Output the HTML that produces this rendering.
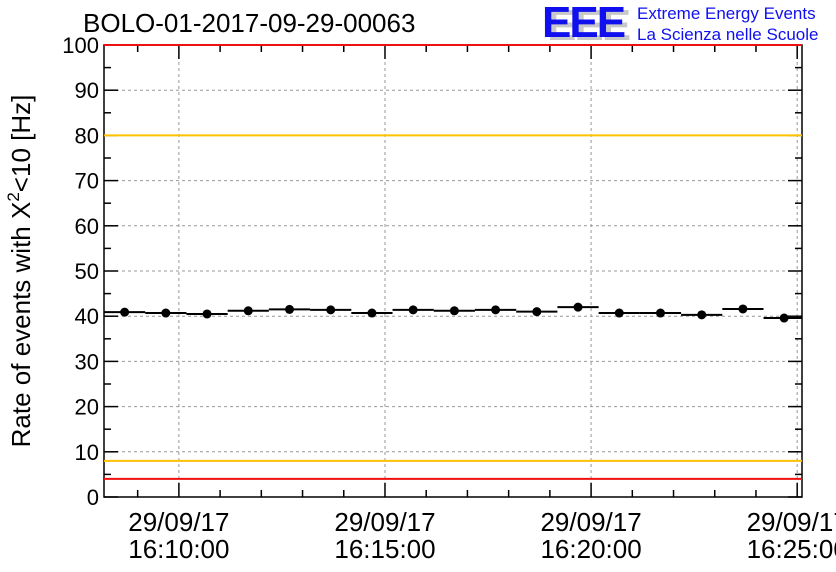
<!DOCTYPE html>
<html><head><meta charset="utf-8"><style>
body{margin:0;background:#fff}
svg{display:block;font-family:"Liberation Sans",sans-serif}
</style></head><body>
<svg id="c" width="836" height="572">
<rect width="836" height="572" fill="#fff"/>
<text x="83" y="32" font-size="26">BOLO-01-2017-09-29-00063</text>
<g>
<text x="547" y="40" font-size="44" font-weight="bold" fill="#c8c8c8" letter-spacing="-2">EEE</text>
<text x="542" y="37" font-size="44" font-weight="bold" fill="#1010ee" letter-spacing="-2">EEE</text>
<text x="637" y="19" font-size="17" fill="#1010ee">Extreme Energy Events</text>
<text x="637" y="40" font-size="17" fill="#1010ee">La Scienza nelle Scuole</text>
</g>
<text transform="translate(30,271) rotate(-90)" text-anchor="middle" font-size="26">Rate of events with X<tspan dy="-11" font-size="17">2</tspan><tspan dy="11">&lt;10 [Hz]</tspan></text>
<g id="grid"></g><g id="axes"></g><g id="refs"></g><g id="marks"></g>
</svg>
<script>
const values=[40.9,40.7,40.5,41.2,41.5,41.4,40.7,41.4,41.2,41.4,41.0,42.0,40.7,40.7,40.3,41.6,39.6];
const yTicks=[0,10,20,30,40,50,60,70,80,90,100];
const xTickLabels=["16:10:00","16:15:00","16:20:00","16:25:00"];
const xTickMinutes=[10,15,20,25];
const refLines=[{v:100,c:"#ee1111"},{v:80,c:"#ffc000"},{v:8,c:"#ffc000"},{v:4,c:"#ee1111"}];
const X0=104,X1=802,Y0=497,Y1=45;
const tMin=8+11/60, tMax=25+7/60;
const xs=t=>X0+(t-tMin)/(tMax-tMin)*(X1-X0);
const ys=v=>Y0-(v/100)*(Y0-Y1);
const NS="http://www.w3.org/2000/svg";
function mk(p,tag,a){const e=document.createElementNS(NS,tag);for(const k in a)e.setAttribute(k,a[k]);document.getElementById(p).appendChild(e);return e;}
yTicks.forEach(v=>{if(v>0&&v<100){const l=mk("grid","line",{x1:X0,x2:X1,y1:ys(v),y2:ys(v),stroke:"#999","stroke-dasharray":"3,3"});

}});
xTickMinutes.forEach(m=>{const x=xs(m);if(x<X1){const l=mk("grid","line",{x1:x,x2:x,y1:Y0,y2:Y1,stroke:"#999","stroke-dasharray":"3,3"});

}});
const fr=mk("axes","rect",{x:X0,y:Y1,width:X1-X0,height:Y0-Y1,fill:"none",stroke:"#000","stroke-width":1.5});


for(let v=0;v<=100;v+=5){const y=ys(v),len=v%10===0?14:7;
mk("axes","line",{x1:X0,x2:X0+len,y1:y,y2:y,stroke:"#000","stroke-width":1.5});
mk("axes","line",{x1:X1,x2:X1-len,y1:y,y2:y,stroke:"#000","stroke-width":1.5});}
yTicks.forEach(v=>{const t=mk("axes","text",{x:99,y:ys(v)+8,"text-anchor":"end","font-size":22});t.textContent=v;

});
for(let m=9;m<=25;m++){const x=xs(m),len=m%5===0?14:7;
mk("axes","line",{x1:x,x2:x,y1:Y0,y2:Y0-len,stroke:"#000","stroke-width":1.5});
mk("axes","line",{x1:x,x2:x,y1:Y1,y2:Y1+len,stroke:"#000","stroke-width":1.5});}
xTickMinutes.forEach((m,i)=>{const x=xs(m);
const a=mk("axes","text",{x:x,y:531,"text-anchor":"middle","font-size":26});a.textContent="29/09/17";


const b=mk("axes","text",{x:x,y:558,"text-anchor":"middle","font-size":26});b.textContent=xTickLabels[i];

});
refLines.forEach(r=>{const l=mk("refs","line",{x1:X0,x2:X1,y1:ys(r.v),y2:ys(r.v),stroke:r.c,"stroke-width":2});

});
values.forEach((v,i)=>{const t0=tMin+i,t1=Math.min(tMin+i+1,tMax),tc=tMin+i+0.5;
const l=mk("marks","line",{x1:xs(t0),x2:xs(t1),y1:ys(v),y2:ys(v),stroke:"#000","stroke-width":2});


const c=mk("marks","circle",{cx:xs(tc),cy:ys(v),r:4.5,fill:"#000"});

});
</script>
</body></html>
